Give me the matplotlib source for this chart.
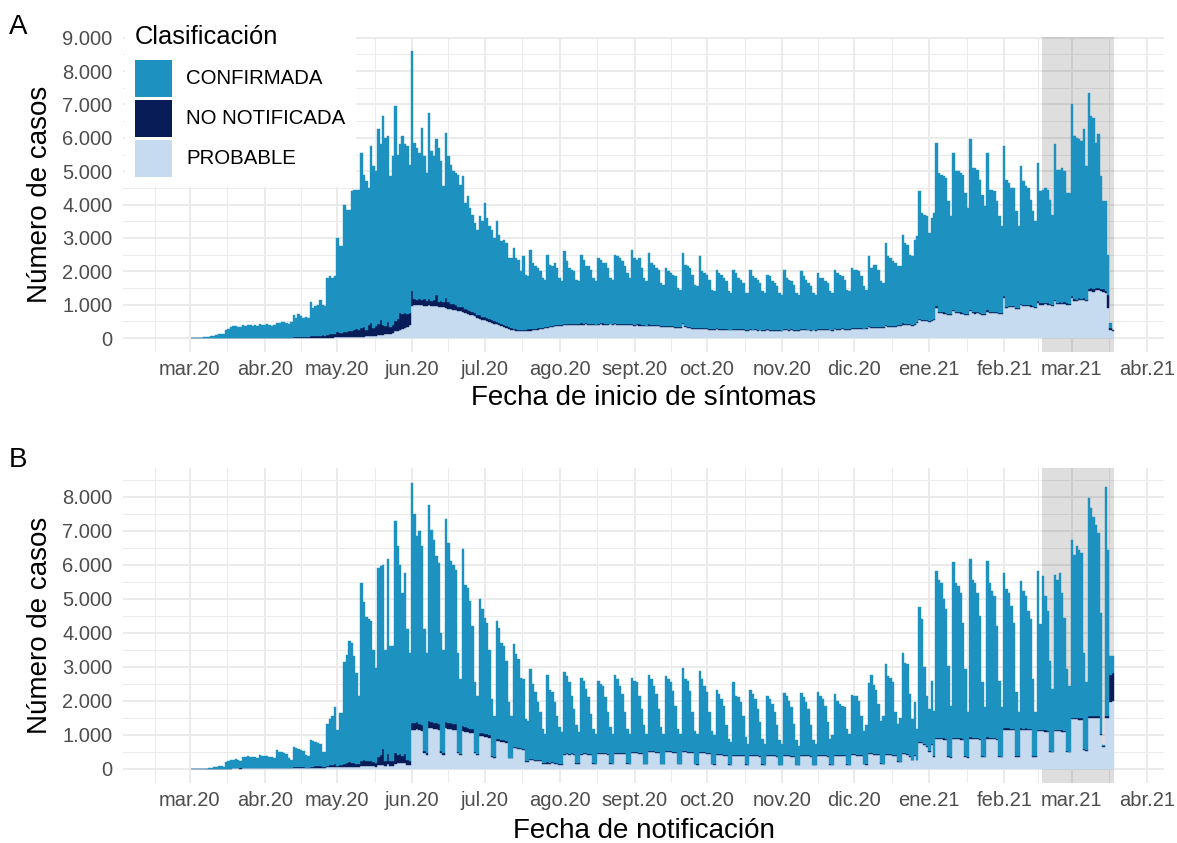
import numpy as np
import pandas as pd
import matplotlib
matplotlib.use("Agg")
import matplotlib.pyplot as plt
import matplotlib.dates as mdates
from matplotlib.patches import Patch
from matplotlib.ticker import FixedLocator, FuncFormatter

plt.rcParams['font.family'] = ['Liberation Sans', 'DejaVu Sans']

# daily cases, one row per week (Mon..Sun), first day 2020-03-02
first_day = '2020-03-02'

# A: fecha de inicio de sintomas
a_total = [
    5, 5, 10, 10, 15, 20, 20,
    40, 50, 60, 90, 110, 120, 130,
    250, 280, 330, 350, 360, 340, 330,
    380, 360, 400, 380, 360, 390, 350,
    420, 400, 380, 420, 400, 360, 380,
    460, 450, 480, 470, 440, 430, 480,
    680, 600, 720, 650, 600, 620, 600,
    1080, 900, 950, 1000, 1150, 1000, 950,
    1800, 1850, 1800, 1850, 3000, 2750, 2750,
    4000, 3850, 3850, 4400, 4450, 4450, 4450,
    5550, 4900, 4700, 4500, 5750, 5150, 5000,
    6250, 5800, 6650, 6000, 6050, 4850, 5450,
    6950, 5500, 5800, 6050, 5800, 5750, 5200,
    8600, 5850, 5700, 5550, 6300, 5450, 4950,
    6750, 5600, 5450, 5950, 5700, 5300, 4550,
    6150, 5450, 5200, 5000, 4950, 4900, 4600,
    4850, 4050, 4250, 3900, 3700, 3450, 3250,
    3650, 3500, 4050, 3600, 3350, 3250, 3000,
    3500, 3100, 2900, 2950, 2850, 2400, 2400,
    2700, 2400, 2350, 2000, 2450, 1900, 1850,
    2650, 2250, 2150, 2100, 2000, 1800, 1750,
    2500, 2200, 2150, 2250, 2100, 1800, 1700,
    2600, 2300, 2100, 2050, 2000, 1750, 1700,
    2500, 2350, 2150, 2150, 2050, 1800, 1700,
    2400, 2350, 2250, 2250, 2100, 1800, 1750,
    2500, 2450, 2400, 2300, 2150, 1950, 1800,
    2650, 2400, 2350, 2400, 2100, 1800, 1700,
    2550, 2250, 2200, 2100, 2050, 1650, 1600,
    2100, 2000, 1950, 1900, 1850, 1500, 1450,
    2550, 2200, 2150, 2100, 1900, 1600, 1550,
    2450, 2000, 1950, 1900, 1750, 1450, 1400,
    2050, 1950, 1900, 1800, 1700, 1400, 1350,
    2050, 1950, 1800, 1750, 1650, 1350, 1350,
    2050, 1850, 1800, 1750, 1650, 1400, 1350,
    1900, 1850, 1700, 1650, 1550, 1350, 1300,
    2050, 1800, 1750, 1700, 1600, 1350, 1300,
    2000, 1850, 1750, 1650, 1550, 1350, 1300,
    1950, 1800, 1800, 1700, 1650, 1400, 1350,
    2050, 1950, 1900, 1850, 1750, 1450, 1400,
    2100, 2050, 2050, 2000, 1850, 1550, 1450,
    2450, 2100, 2200, 2200, 2050, 1700, 1650,
    2850, 2450, 2400, 2300, 2250, 2150, 2150,
    3100, 2850, 2800, 2500, 2450, 2950, 3050,
    4400, 3750, 3700, 3650, 3150, 3600, 3750,
    5850, 4950, 4900, 4850, 4800, 4100, 3650,
    5550, 5000, 5000, 4950, 4900, 4350, 3900,
    5950, 5100, 5100, 5050, 4750, 4300, 3950,
    5550, 4450, 4450, 4400, 4100, 3650, 3350,
    5750, 4750, 4650, 4500, 4500, 3800, 3350,
    5150, 4700, 4550, 4500, 4150, 3800, 3500,
    5250, 4400, 4450, 4500, 4450, 4150, 3700,
    5800, 5050, 5050, 5100, 5000, 4350, 4350,
    7000, 6050, 6000, 5950, 5900, 6250, 5150,
    7350, 6650, 6600, 5850, 6100, 4850, 4100,
    4100, 2500, 450, 250,
]
a_prob = [
    0, 0, 0, 0, 0, 0, 0,
    0, 0, 0, 0, 0, 0, 0,
    0, 0, 0, 0, 0, 0, 0,
    0, 0, 0, 0, 0, 0, 0,
    0, 0, 0, 0, 0, 0, 0,
    0, 0, 0, 0, 0, 0, 0,
    0, 0, 5, 5, 5, 5, 5,
    10, 10, 10, 10, 10, 10, 10,
    15, 15, 15, 20, 20, 20, 20,
    20, 25, 25, 25, 30, 30, 30,
    40, 45, 50, 55, 60, 60, 65,
    80, 90, 100, 110, 120, 130, 150,
    200, 220, 250, 280, 300, 330, 400,
    950, 980, 1000, 980, 1000, 970, 950,
    980, 970, 950, 950, 930, 920, 930,
    900, 880, 870, 850, 830, 800, 800,
    770, 750, 730, 700, 680, 650, 600,
    580, 550, 530, 500, 480, 450, 430,
    420, 400, 370, 330, 300, 280, 250,
    230, 220, 200, 200, 200, 200, 220,
    220, 230, 250, 250, 270, 280, 300,
    300, 320, 330, 350, 350, 360, 370,
    380, 390, 380, 400, 390, 380, 390,
    400, 390, 410, 400, 390, 400, 380,
    400, 410, 400, 390, 400, 410, 390,
    410, 400, 390, 400, 380, 390, 380,
    380, 370, 380, 370, 360, 370, 350,
    370, 360, 350, 360, 350, 340, 330,
    340, 330, 320, 330, 310, 300, 300,
    420, 320, 300, 290, 280, 270, 270,
    280, 270, 260, 260, 250, 250, 240,
    260, 250, 240, 250, 240, 230, 230,
    250, 240, 230, 240, 230, 220, 220,
    240, 230, 230, 220, 230, 220, 210,
    230, 220, 220, 210, 220, 210, 200,
    240, 230, 220, 230, 220, 210, 210,
    240, 230, 240, 230, 220, 230, 220,
    250, 240, 240, 230, 240, 230, 220,
    260, 250, 250, 260, 250, 240, 240,
    280, 270, 280, 270, 260, 260, 260,
    320, 300, 310, 300, 300, 290, 290,
    350, 340, 340, 330, 340, 350, 350,
    400, 380, 390, 380, 370, 400, 450,
    540, 500, 500, 500, 470, 520, 550,
    900, 750, 740, 730, 720, 700, 680,
    800, 740, 740, 730, 720, 700, 690,
    800, 740, 730, 740, 720, 700, 700,
    780, 750, 740, 750, 740, 720, 720,
    1200, 900, 920, 930, 920, 880, 870,
    980, 950, 960, 950, 940, 920, 900,
    1050, 1000, 1000, 1010, 1000, 980, 960,
    1100, 1020, 1030, 1020, 1030, 1000, 1000,
    1200, 1120, 1100, 1150, 1130, 1150, 1100,
    1400, 1420, 1380, 1450, 1430, 1400, 1380,
    1350, 900, 250, 200,
]
a_nn = [
    0, 0, 0, 0, 0, 0, 0,
    0, 0, 0, 0, 0, 0, 0,
    0, 0, 0, 0, 0, 0, 0,
    0, 0, 5, 0, 5, 5, 5,
    5, 5, 5, 10, 5, 5, 10,
    10, 10, 10, 10, 15, 10, 15,
    20, 20, 25, 30, 25, 30, 30,
    50, 40, 50, 60, 60, 70, 60,
    90, 100, 110, 100, 150, 120, 130,
    160, 150, 200, 180, 200, 250, 200,
    250, 300, 200, 350, 400, 250, 300,
    350, 450, 300, 250, 350, 200, 250,
    300, 350, 500, 450, 450, 400, 350,
    450, 200, 150, 180, 150, 200, 150,
    200, 150, 180, 350, 150, 200, 150,
    300, 200, 150, 180, 150, 120, 130,
    150, 130, 120, 120, 100, 110, 100,
    100, 90, 100, 90, 80, 80, 70,
    70, 60, 60, 50, 60, 50, 50,
    50, 40, 40, 40, 50, 40, 40,
    40, 40, 30, 40, 40, 30, 30,
    40, 30, 30, 40, 30, 30, 30,
    30, 40, 30, 30, 30, 30, 30,
    40, 30, 30, 30, 30, 30, 20,
    30, 30, 40, 30, 30, 20, 30,
    40, 30, 30, 30, 30, 30, 30,
    40, 30, 30, 40, 30, 30, 20,
    40, 30, 30, 30, 30, 20, 20,
    30, 30, 30, 30, 30, 20, 20,
    40, 30, 30, 30, 30, 20, 20,
    30, 30, 30, 30, 30, 20, 20,
    30, 30, 20, 30, 30, 20, 20,
    30, 30, 30, 20, 30, 20, 20,
    30, 20, 30, 30, 20, 20, 20,
    30, 30, 20, 30, 30, 20, 20,
    30, 30, 30, 30, 20, 20, 20,
    30, 30, 30, 20, 30, 20, 20,
    30, 30, 30, 30, 30, 20, 20,
    30, 30, 30, 30, 30, 20, 20,
    30, 30, 30, 30, 30, 20, 30,
    40, 30, 30, 30, 30, 30, 30,
    40, 30, 30, 30, 30, 30, 30,
    40, 30, 30, 30, 30, 30, 30,
    40, 40, 30, 30, 30, 30, 30,
    50, 40, 40, 40, 40, 30, 30,
    50, 40, 40, 40, 40, 30, 30,
    50, 40, 40, 40, 40, 30, 30,
    50, 40, 40, 40, 40, 30, 30,
    50, 40, 40, 40, 40, 30, 30,
    50, 40, 40, 40, 40, 30, 30,
    50, 40, 40, 40, 40, 30, 30,
    50, 40, 40, 40, 40, 40, 30,
    50, 50, 40, 50, 50, 60, 50,
    80, 70, 80, 60, 70, 60, 80,
    60, 400, 60, 40,
]

# B: fecha de notificacion
b_total = [
    0, 0, 0, 0, 0, 0, 0,
    20, 30, 40, 50, 70, 80, 60,
    200, 220, 250, 260, 280, 250, 230,
    330, 350, 360, 340, 350, 330, 300,
    410, 380, 370, 360, 350, 340, 300,
    540, 500, 480, 450, 420, 300, 260,
    630, 600, 580, 560, 520, 400, 380,
    830, 800, 780, 760, 740, 500, 480,
    1300, 1450, 1550, 1800, 1150, 1650, 1650,
    3150, 3350, 3750, 3700, 3300, 2800, 2150,
    5450, 4900, 4450, 4400, 4350, 3500, 2950,
    5900, 5950, 6000, 3500, 6150, 3600, 3600,
    7270, 6540, 6000, 5170, 5760, 4100, 3400,
    8410, 7500, 6830, 6980, 6540, 4100, 3400,
    7760, 7020, 6730, 6240, 6050, 4000, 3500,
    7340, 6630, 6100, 6000, 5850, 3400, 2630,
    6460, 5410, 5320, 4930, 4200, 2540, 2150,
    4980, 4680, 4440, 4290, 3500, 2050, 1560,
    4340, 4150, 3700, 3600, 3170, 1950, 1560,
    3660, 3370, 3220, 2680, 2630, 1460, 1410,
    2930, 2490, 2240, 1950, 1660, 1170, 1020,
    2750, 2300, 2240, 1950, 1560, 1220, 1070,
    2830, 2730, 2540, 2150, 1760, 1270, 1070,
    2680, 2590, 2340, 2100, 1610, 1170, 1020,
    2590, 2490, 2440, 2100, 1660, 1220, 1020,
    2750, 2630, 2440, 2190, 1660, 1170, 1020,
    2660, 2590, 2540, 2150, 1760, 1270, 1020,
    2750, 2630, 2440, 2190, 1760, 1220, 1020,
    2730, 2630, 2540, 2290, 1850, 1170, 1020,
    2950, 2630, 2590, 2290, 1660, 1120, 1020,
    2880, 2630, 2440, 2240, 1660, 1120, 980,
    2320, 2200, 2050, 1850, 1270, 880, 780,
    2540, 2150, 2100, 1950, 1560, 930, 730,
    2320, 2200, 2050, 1760, 1370, 880, 730,
    2150, 2050, 1900, 1660, 1270, 830, 730,
    2220, 2150, 2000, 1810, 1320, 830, 680,
    2220, 2100, 1950, 1760, 1270, 830, 730,
    2240, 2150, 2050, 1850, 1370, 880, 980,
    2200, 2000, 1900, 1850, 1800, 1170, 1020,
    2170, 2150, 2150, 2000, 1560, 1120, 1270,
    2520, 2750, 2450, 2300, 1900, 1400, 1550,
    3070, 2730, 2680, 2540, 1660, 1320, 1500,
    3400, 3120, 3070, 2200, 1460, 1950, 1170,
    4760, 4390, 2980, 2150, 1760, 2590, 1700,
    5800, 5560, 5460, 4980, 4680, 3020, 1850,
    6070, 5460, 5370, 5170, 4290, 2930, 1660,
    6150, 5560, 5460, 5170, 4490, 2540, 1800,
    6100, 5460, 5220, 5070, 4200, 2590, 1800,
    5760, 5270, 5170, 4780, 4290, 2240, 1660,
    5510, 5220, 5070, 4630, 4390, 2630, 1660,
    5800, 4240, 5660, 5070, 4630, 3170, 2340,
    5700, 5560, 5740, 5170, 4440, 2930, 2440,
    6710, 6290, 6540, 6440, 6340, 3410, 2540,
    7950, 7660, 7410, 7170, 6930, 4590, 700,
    8270, 6440, 3320, 3320,
]
b_prob = [
    0, 0, 0, 0, 0, 0, 0,
    0, 0, 0, 0, 5, 5, 5,
    5, 5, 5, 10, 10, 10, 5,
    10, 10, 10, 15, 15, 10, 10,
    15, 15, 15, 20, 15, 10, 10,
    20, 20, 20, 20, 20, 15, 15,
    25, 25, 25, 30, 30, 20, 20,
    30, 30, 35, 35, 35, 25, 25,
    40, 40, 45, 50, 40, 45, 45,
    50, 55, 60, 60, 60, 50, 45,
    70, 80, 80, 90, 90, 70, 60,
    100, 110, 120, 80, 130, 90, 90,
    150, 160, 170, 160, 180, 120, 100,
    1150, 1150, 1180, 1150, 1120, 450, 400,
    1200, 1200, 1180, 1170, 1150, 450, 400,
    1200, 1180, 1170, 1150, 1150, 450, 400,
    1100, 1080, 1080, 1050, 1050, 450, 400,
    950, 950, 920, 930, 900, 350, 300,
    800, 800, 780, 780, 750, 300, 300,
    600, 600, 580, 580, 550, 200, 200,
    250, 250, 240, 230, 230, 150, 150,
    150, 150, 160, 150, 150, 120, 120,
    400, 420, 410, 420, 400, 150, 150,
    410, 420, 420, 410, 400, 150, 140,
    420, 420, 430, 420, 410, 150, 140,
    430, 440, 430, 420, 420, 150, 140,
    450, 460, 450, 440, 430, 140, 130,
    480, 490, 480, 470, 460, 140, 130,
    490, 480, 480, 470, 460, 140, 130,
    480, 480, 470, 460, 450, 140, 120,
    460, 460, 450, 440, 430, 130, 120,
    400, 400, 390, 380, 370, 120, 110,
    380, 380, 380, 370, 360, 120, 110,
    370, 380, 370, 360, 350, 120, 110,
    370, 370, 360, 360, 350, 110, 100,
    360, 370, 360, 350, 350, 110, 100,
    370, 370, 360, 360, 350, 110, 100,
    370, 380, 370, 360, 350, 120, 110,
    380, 380, 370, 370, 360, 120, 110,
    390, 390, 380, 370, 360, 130, 120,
    420, 420, 410, 400, 390, 150, 140,
    400, 400, 390, 380, 360, 200, 200,
    420, 420, 400, 350, 250, 380, 250,
    750, 750, 700, 650, 500, 700, 350,
    870, 860, 860, 850, 840, 350, 320,
    870, 860, 860, 850, 840, 350, 320,
    880, 870, 860, 860, 850, 350, 330,
    880, 870, 870, 860, 850, 350, 330,
    1150, 1150, 1150, 1140, 1130, 350, 340,
    1150, 1140, 1150, 1140, 1130, 350, 340,
    1100, 1100, 1100, 1090, 1080, 500, 480,
    1100, 1110, 1100, 1090, 1080, 500, 480,
    1450, 1450, 1450, 1440, 1430, 550, 530,
    1500, 1500, 1500, 1480, 1480, 1000, 650,
    1500, 1500, 1950, 2000,
]
b_nn = [
    0, 0, 0, 0, 0, 0, 0,
    0, 0, 0, 0, 0, 0, 0,
    0, 0, 0, 5, 5, 5, 5,
    5, 5, 5, 5, 5, 5, 5,
    10, 10, 10, 10, 10, 5, 5,
    10, 10, 10, 15, 15, 10, 10,
    20, 20, 20, 20, 20, 10, 10,
    30, 30, 30, 30, 30, 20, 20,
    50, 60, 60, 80, 50, 70, 70,
    100, 120, 130, 120, 110, 90, 80,
    150, 180, 160, 150, 150, 120, 100,
    250, 300, 450, 150, 300, 150, 150,
    300, 250, 250, 200, 250, 150, 120,
    200, 180, 180, 160, 170, 60, 50,
    200, 180, 170, 160, 150, 60, 50,
    180, 170, 160, 150, 150, 50, 40,
    150, 140, 130, 120, 120, 40, 30,
    100, 90, 90, 80, 80, 30, 30,
    80, 70, 60, 60, 60, 20, 20,
    50, 50, 40, 40, 40, 20, 20,
    40, 40, 30, 30, 30, 10, 10,
    40, 30, 30, 30, 30, 10, 10,
    30, 30, 30, 30, 30, 10, 10,
    30, 30, 30, 30, 30, 10, 10,
    30, 30, 30, 30, 20, 10, 10,
    30, 30, 30, 30, 30, 10, 10,
    30, 30, 30, 20, 30, 10, 10,
    30, 30, 30, 30, 30, 10, 10,
    30, 30, 30, 30, 30, 10, 10,
    30, 30, 20, 30, 30, 10, 10,
    30, 30, 30, 30, 30, 10, 10,
    30, 30, 30, 30, 20, 10, 10,
    30, 30, 30, 30, 30, 10, 10,
    30, 20, 30, 30, 30, 10, 10,
    30, 30, 30, 30, 30, 10, 10,
    30, 30, 30, 20, 30, 10, 10,
    30, 30, 30, 30, 30, 10, 10,
    30, 30, 30, 30, 30, 10, 10,
    30, 30, 30, 30, 30, 10, 10,
    30, 30, 30, 30, 30, 10, 10,
    30, 30, 30, 30, 30, 10, 10,
    30, 30, 30, 30, 30, 20, 10,
    30, 30, 30, 30, 20, 20, 10,
    40, 40, 30, 30, 30, 30, 20,
    40, 40, 40, 40, 30, 20, 20,
    40, 40, 40, 40, 30, 20, 20,
    40, 40, 40, 40, 30, 20, 20,
    40, 40, 40, 40, 30, 20, 20,
    40, 40, 40, 40, 30, 20, 20,
    40, 40, 40, 40, 30, 20, 20,
    40, 40, 40, 40, 30, 20, 20,
    40, 40, 40, 40, 30, 20, 20,
    50, 50, 50, 50, 50, 20, 20,
    50, 50, 50, 60, 60, 30, 20,
    50, 50, 800, 800,
]

month_labels = ['mar.20', 'abr.20', 'may.20', 'jun.20', 'jul.20', 'ago.20',
                'sept.20', 'oct.20', 'nov.20', 'dic.20', 'ene.21', 'feb.21',
                'mar.21', 'abr.21']
categories = ['CONFIRMADA', 'NO NOTIFICADA', 'PROBABLE']
colors = {'CONFIRMADA': '#1d91c0', 'NO NOTIFICADA': '#081d58', 'PROBABLE': '#c6dbef'}
shade_first, shade_last = '2021-02-17', '2021-03-18'

for s in (a_total, a_prob, a_nn, b_total, b_prob, b_nn):
    assert len(s) == 382, len(s)

dates = pd.date_range(first_day, periods=382, freq='D')
xd = mdates.date2num(dates)
origin = mdates.date2num(pd.Timestamp('2020-03-01'))

W, H = 1177, 843
fig = plt.figure(figsize=(W / 100, H / 100), dpi=100)


def px_axes(left, top, right, bottom):
    return fig.add_axes([left / W, 1 - bottom / H, (right - left) / W, (bottom - top) / H])


def thousands(v, pos):
    return f'{int(round(v)):,}'.replace(',', '.')


def panel(ax, total, prob, nn, ymax, yticks_max, xlabel):
    total = np.array(total, dtype=float)
    prob = np.array(prob, dtype=float)
    nn = np.array(nn, dtype=float)
    conf = total - prob - nn  # confirmed part = top of bar minus the lower layers

    ax.axvspan(mdates.date2num(pd.Timestamp(shade_first)) - 0.5,
               mdates.date2num(pd.Timestamp(shade_last)) + 0.5,
               color='black', alpha=0.13, lw=0, zorder=1)
    kw = dict(width=1.0, align='center', zorder=2, linewidth=0.3)
    ax.bar(xd, prob, color=colors['PROBABLE'], edgecolor=colors['PROBABLE'], **kw)
    ax.bar(xd, nn, bottom=prob, color=colors['NO NOTIFICADA'],
           edgecolor=colors['NO NOTIFICADA'], **kw)
    ax.bar(xd, conf, bottom=prob + nn, color=colors['CONFIRMADA'],
           edgecolor=colors['CONFIRMADA'], **kw)

    ax.set_xlim(origin - 27.7, origin + 403.1)
    ax.set_ylim(-0.05 * ymax, 1.05 * ymax)

    months = pd.date_range('2020-03-01', '2021-04-01', freq='MS')
    gm = pd.date_range('2020-02-01', '2021-05-01', freq='MS')
    gmn = mdates.date2num(gm)
    mids = (gmn[:-1] + gmn[1:]) / 2
    ax.xaxis.set_major_locator(FixedLocator(mdates.date2num(months)))
    ax.set_xticklabels(month_labels)
    ax.xaxis.set_minor_locator(FixedLocator(mids))
    ax.yaxis.set_major_locator(FixedLocator(np.arange(0, yticks_max + 1, 1000)))
    ax.yaxis.set_minor_locator(FixedLocator(np.arange(500, yticks_max + 1000, 1000)))
    ax.yaxis.set_major_formatter(FuncFormatter(thousands))

    ax.set_axisbelow(True)
    ax.grid(which='major', color='#ebebeb', lw=1.4, zorder=0)
    ax.grid(which='minor', color='#ebebeb', lw=0.7, zorder=0)
    for sp in ax.spines.values():
        sp.set_visible(False)
    ax.tick_params(which='both', length=0)
    ax.tick_params(axis='x', labelsize=14.5, colors='#4d4d4d', pad=5.5)
    ax.tick_params(axis='y', labelsize=14.5, colors='#4d4d4d', pad=7.5)

    ax.set_xlabel(xlabel, fontsize=20)
    ax.set_ylabel('Número de casos', fontsize=20)
    ax.xaxis.label.set_verticalalignment('center')
    ax.yaxis.label.set_verticalalignment('center')


axA = px_axes(123, 36.7, 1164, 352.4)
panel(axA, a_total, a_prob, a_nn, 8600, 9000, 'Fecha de inicio de síntomas')
axA.xaxis.set_label_coords(0.5, (352.4 - 398) / (352.4 - 36.7))
axA.yaxis.set_label_coords((40 - 123) / (1164 - 123), 0.5)

axB = px_axes(123, 468.3, 1164, 783)
panel(axB, b_total, b_prob, b_nn, 8410, 8000, 'Fecha de notificación')
axB.xaxis.set_label_coords(0.5, (783 - 831) / (783 - 468.3))
axB.yaxis.set_label_coords((40 - 123) / (1164 - 123), 0.5)

fig.text(9 / W, 1 - 34 / H, 'A', fontsize=20, ha='left', va='baseline')
fig.text(9 / W, 1 - 467 / H, 'B', fontsize=20, ha='left', va='baseline')

handles = [Patch(facecolor=colors[c], edgecolor='none') for c in categories]
leg = axA.legend(handles, categories, title='Clasificación', loc='upper left',
                 bbox_to_anchor=(125 / W, 1 - 15 / H), bbox_transform=fig.transFigure,
                 borderaxespad=0, borderpad=0.5, fontsize=14.7, title_fontsize=18.4,
                 handlelength=1.81, handleheight=2.41, labelspacing=0.15,
                 handletextpad=0.69, alignment='left', frameon=True,
                 fancybox=False, framealpha=1, facecolor='white', edgecolor='none')
leg._legend_box.sep = 7.5  # a bit more room between title and keys
leg.set_zorder(5)

fig.savefig('out.png', dpi=100)
